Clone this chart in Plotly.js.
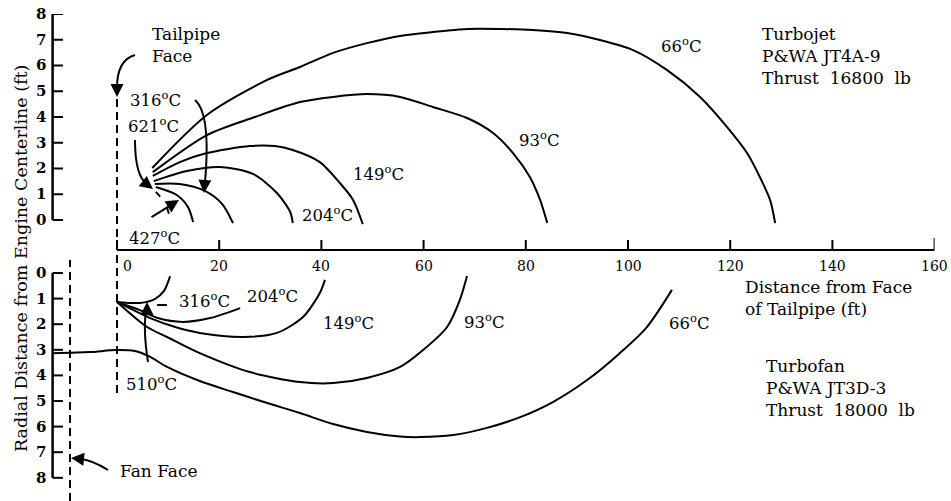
<!DOCTYPE html>
<html><head><meta charset="utf-8">
<script src="https://cdn.plot.ly/plotly-3.0.1.min.js"></script>
<style>html,body{margin:0;padding:0;background:#fff}#chart{width:951px;height:501px}</style>
</head><body><div id="chart"></div>
<script>
// ---------- data (ft) ----------
// ticks of the shared "Distance from Face of Tailpipe" axis and the two radial axes
const xTickVals = [0, 20, 40, 60, 80, 100, 120, 140, 160];
const xTickText = ['0', '20', '40', '60', '80', '100', '120', '140', '160'];
const yTickVals = [0, 1, 2, 3, 4, 5, 6, 7, 8];
const yTickText = ['0', '1', '2', '3', '4', '5', '6', '7', '8'];

// Turbojet P&WA JT4A-9 (upper half, radial distance upward)
const jet66X = [6.9, 17.6, 29.4, 35.8, 42.3, 48.9, 55.4, 61.8, 68.5, 75.0, 81.4, 88.1, 94.5, 101.0, 107.6, 114.1, 119.4, 123.3, 125.8, 127.8, 128.8];
const jet66Y = [2.02, 4.08, 5.44, 5.94, 6.49, 6.87, 7.15, 7.30, 7.42, 7.42, 7.38, 7.26, 6.99, 6.60, 5.83, 4.78, 3.61, 2.60, 1.67, 0.78, -0.12];
const jet93X = [7.0, 17.6, 27.0, 35.8, 42.3, 48.9, 55.4, 61.8, 68.5, 73.6, 77.5, 80.8, 82.8, 84.2];
const jet93Y = [1.86, 3.30, 4.00, 4.58, 4.78, 4.89, 4.78, 4.39, 3.96, 3.38, 2.60, 1.67, 0.78, -0.12];
const jet149X = [7.0, 12.3, 17.6, 26.0, 30.9, 34.4, 39.7, 43.6, 46.2, 48.1];
const jet149Y = [1.71, 2.25, 2.60, 2.87, 2.87, 2.72, 2.25, 1.44, 0.78, -0.16];
const jet204X = [7.2, 13.7, 20.2, 26.6, 31.3, 33.9, 34.4];
const jet204Y = [1.51, 1.90, 2.06, 1.79, 1.05, 0.31, -0.12];
const jet316X = [7.4, 12.3, 17.2, 20.6, 22.7];
const jet316Y = [1.40, 1.40, 1.13, 0.62, -0.12];
const jet427X = [7.6, 11.7, 13.9, 14.9];
const jet427Y = [1.28, 0.97, 0.50, -0.08];
const jetDashX = [7.6, 9.4, 10.6];
const jetDashY = [1.09, 0.66, -0.08];

// Turbofan P&WA JT3D-3 (lower half, radial distance downward)
const fan316X = [0, 4.5, 7.4, 9.2, 10.4];
const fan316Y = [1.13, 1.17, 1.02, 0.70, 0.12];
const fan204X = [0, 4.5, 8.0, 12.9, 18.2, 24.1];
const fan204Y = [1.13, 1.45, 1.76, 1.91, 1.76, 1.37];
const fan149X = [0, 6.5, 11.4, 16.2, 24.7, 31.3, 36.4, 39.7, 40.7];
const fan149Y = [1.13, 1.76, 2.11, 2.34, 2.50, 2.34, 1.72, 0.78, 0.27];
const fan93X = [0, 5.9, 9.8, 16.2, 26.0, 35.8, 42.3, 48.9, 55.4, 59.9, 64.6, 67.1, 68.5];
const fan93Y = [1.13, 2.11, 2.50, 3.13, 3.87, 4.26, 4.30, 4.10, 3.67, 3.01, 2.11, 1.05, 0.12];
const fan66X = [-12.5, -5.3, -0.2, 3.5, 6.5, 9.8, 16.2, 22.7, 29.4, 35.8, 42.3, 48.9, 55.4, 59.3, 65.8, 72.4, 78.9, 85.3, 92.0, 98.4, 103.7, 108.6];
const fan66Y = [3.13, 3.09, 3.01, 3.05, 3.28, 3.67, 4.22, 4.65, 5.08, 5.47, 5.90, 6.21, 6.39, 6.41, 6.33, 6.05, 5.63, 5.04, 4.18, 3.13, 2.11, 0.66];

const jetLabels = ['66<sup>o</sup>C', '93<sup>o</sup>C', '149<sup>o</sup>C', '204<sup>o</sup>C', '316<sup>o</sup>C', '621<sup>o</sup>C', '427<sup>o</sup>C'];
const fanLabels = ['66<sup>o</sup>C', '93<sup>o</sup>C', '149<sup>o</sup>C', '204<sup>o</sup>C', '316<sup>o</sup>C', '510<sup>o</sup>C'];
const jetText = 'Turbojet<br>P&amp;WA JT4A-9<br>Thrust  16800  lb';
const fanText = 'Turbofan<br>P&amp;WA JT3D-3<br>Thrust  18000  lb';

// ---------- layout helpers (pixel -> paper) ----------
const W = 951, H = 501;
const PX = x => x / W;
const PY = y => (H - y) / H;
const FONT = 'DejaVu Serif';
const BLACK = '#000';

function curve(x, y, yax, dash) {
  return {type: 'scatter', mode: 'lines', x: x, y: y, xaxis: 'x', yaxis: yax,
    line: {color: BLACK, width: 2, shape: 'spline', smoothing: 0.8, dash: dash || 'solid'},
    hoverinfo: 'skip', showlegend: false};
}

const traces = [
  curve(jet66X, jet66Y, 'y'), curve(jet93X, jet93Y, 'y'), curve(jet149X, jet149Y, 'y'),
  curve(jet204X, jet204Y, 'y'), curve(jet316X, jet316Y, 'y'), curve(jet427X, jet427Y, 'y'),
  curve(jetDashX, jetDashY, 'y', '6px,14px'),
  curve(fan66X, fan66Y, 'y2'), curve(fan93X, fan93Y, 'y2'), curve(fan149X, fan149Y, 'y2'),
  curve(fan204X, fan204Y, 'y2'), curve(fan316X, fan316Y, 'y2')
];

// label centres (px)
const jetLabelPos = [[681, 45], [539, 139], [378, 173], [327, 214], [155, 99], [153, 125], [154, 237]];
const fanLabelPos = [[689, 322], [484, 321], [348, 322], [272, 295], [204, 300], [151, 383]];

const annotations = [];
function label(text, p, size) {
  annotations.push({text: text, xref: 'paper', yref: 'paper', x: PX(p[0]), y: PY(p[1]),
    xanchor: 'center', yanchor: 'middle', showarrow: false,
    font: {family: FONT, size: size || 16.5, color: BLACK}});
}
jetLabels.forEach((t, i) => label(t, jetLabelPos[i]));
fanLabels.forEach((t, i) => label(t, fanLabelPos[i]));

function block(text, left, cy) {
  annotations.push({text: text, xref: 'paper', yref: 'paper', x: PX(left), y: PY(cy),
    xanchor: 'left', yanchor: 'middle', align: 'left', showarrow: false,
    font: {family: FONT, size: 17, color: BLACK}});
}
block(jetText, 760, 56);
block(fanText, 764, 388);
block('Distance from Face<br>of Tailpipe (ft)', 743, 298);
block('Tailpipe<br>Face', 150, 45);
block('Fan Face', 118, 471);

annotations.push({text: 'Radial Distance from Engine Centerline (ft)', xref: 'paper', yref: 'paper',
  x: PX(21), y: PY(259), textangle: -90, showarrow: false, xanchor: 'center', yanchor: 'middle',
  font: {family: FONT, size: 17.5, color: BLACK}});

// tick labels placed through the axes' own scales
xTickVals.forEach((v, i) => annotations.push({text: xTickText[i], xref: 'x', yref: 'paper', x: v, y: PY(266),
  xshift: v === 0 ? 11 : 0, xanchor: 'center', yanchor: 'middle', showarrow: false,
  font: {family: FONT, size: 14, color: BLACK}}));
['y', 'y2'].forEach(ax => yTickVals.forEach((v, i) => annotations.push({text: yTickText[i], xref: 'paper', yref: ax,
  x: PX(48), y: v, xanchor: 'right', yanchor: 'middle', showarrow: false,
  font: {family: FONT, size: 15, color: BLACK, weight: 'bold'}})));

// arrow heads (tip px, tail offset px)
function head(tip, ax, ay) {
  annotations.push({text: '', xref: 'paper', yref: 'paper', x: PX(tip[0]), y: PY(tip[1]),
    ax: ax, ay: ay, showarrow: true, arrowhead: 2, arrowsize: 1.3, arrowwidth: 2,
    arrowcolor: BLACK, standoff: 0});
}
head([117, 97], 0, -12);
head([204, 193], 1, -14);
head([153, 189], -9, -7);
head([179, 200], -29, 18);
head([147, 302], 0, 14);
head([71, 458], 10, 1);

const shapes = [];
function qpath(a, c, b) {
  shapes.push({type: 'path', xref: 'paper', yref: 'paper',
    path: 'M ' + PX(a[0]) + ',' + PY(a[1]) + ' Q ' + PX(c[0]) + ',' + PY(c[1]) + ' ' + PX(b[0]) + ',' + PY(b[1]),
    line: {color: BLACK, width: 2}});
}
qpath([135, 55], [117, 60], [117, 88]);
qpath([195, 100], [211, 114], [205, 182]);
qpath([135, 140], [135, 176], [147, 184]);
qpath([148, 362], [143, 330], [146, 312]);
qpath([108, 470], [92, 460], [80, 459]);
// leader dash for 316 C (turbofan)
shapes.push({type: 'line', xref: 'paper', yref: 'paper', x0: PX(157), x1: PX(167), y0: PY(305), y1: PY(305), line: {color: BLACK, width: 2}});
// axis lines
shapes.push({type: 'line', xref: 'x', yref: 'paper', x0: 0, x1: 160, y0: PY(250), y1: PY(250), line: {color: BLACK, width: 2}});
shapes.push({type: 'line', xref: 'paper', yref: 'y', x0: PX(52.6), x1: PX(52.6), y0: 0, y1: 8, line: {color: BLACK, width: 2.5}});
shapes.push({type: 'line', xref: 'paper', yref: 'y2', x0: PX(52.6), x1: PX(52.6), y0: 0, y1: 8, line: {color: BLACK, width: 2.5}});
// tick marks (x ticks point up, y ticks point right)
xTickVals.forEach(v => shapes.push({type: 'line', xref: 'x', yref: 'paper', x0: v, x1: v,
  y0: PY(250), y1: PY(v === 160 ? 238 : 240), line: {color: BLACK, width: 2}}));
yTickVals.forEach(v => {
  shapes.push({type: 'line', xref: 'paper', yref: 'y', x0: PX(52.6), x1: PX(63), y0: v, y1: v, line: {color: BLACK, width: 2}});
  shapes.push({type: 'line', xref: 'paper', yref: 'y2', x0: PX(52.6), x1: PX(63), y0: v, y1: v, line: {color: BLACK, width: 2}});
});
// tailpipe face and fan face (dashed)
shapes.push({type: 'line', xref: 'x', yref: 'paper', x0: 0, x1: 0, y0: PY(393), y1: PY(95), line: {color: BLACK, width: 2, dash: '8px,5px'}});
shapes.push({type: 'line', xref: 'x', yref: 'paper', x0: -9.2, x1: -9.2, y0: 0, y1: PY(260), line: {color: BLACK, width: 2, dash: '8px,5px'}});

const yCommon = {anchor: 'x', ticks: '', showticklabels: false, showline: false, showgrid: false,
  zeroline: false, fixedrange: true};

const layout = {
  width: W, height: H, margin: {l: 0, r: 0, t: 0, b: 0},
  paper_bgcolor: '#fff', plot_bgcolor: 'rgba(0,0,0,0)', showlegend: false,
  xaxis: {domain: [PX(52.6), PX(934.6)], range: [-12.6, 160], anchor: 'y',
    ticks: '', showticklabels: false, showline: false, showgrid: false, zeroline: false, fixedrange: true},
  yaxis: Object.assign({domain: [PY(250), PY(14)], range: [-1.165, 8]}, yCommon),
  yaxis2: Object.assign({domain: [PY(482.92), PY(252.52)], range: [8.2, -0.8]}, yCommon),
  shapes: shapes,
  annotations: annotations
};

Plotly.newPlot('chart', traces, layout, {staticPlot: true, displayModeBar: false});
</script>
</body></html>
